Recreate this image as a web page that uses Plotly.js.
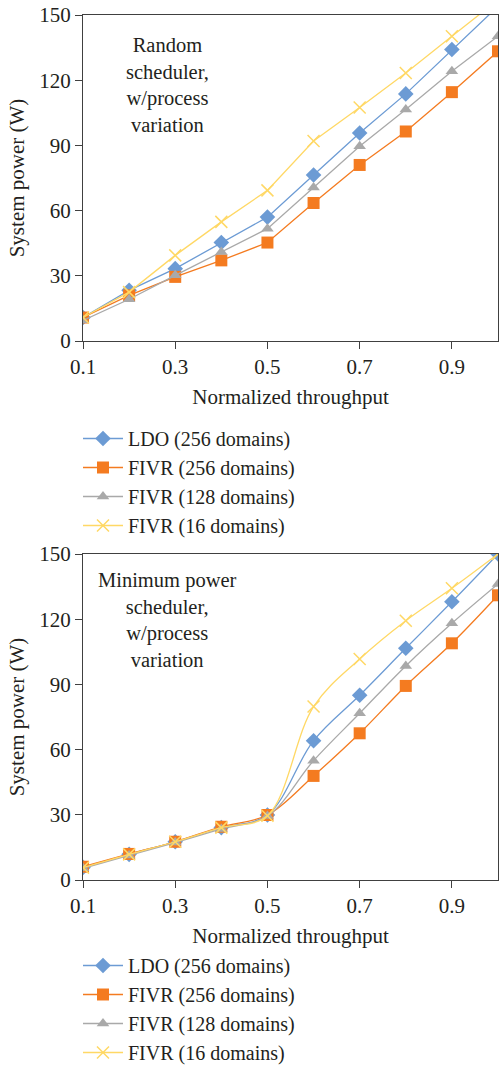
<!DOCTYPE html>
<html>
<head>
<meta charset="utf-8">
<script src="https://cdn.plot.ly/plotly-3.0.1.min.js"></script>
<style>
html,body{margin:0;padding:0;background:#fff;}
#chart{width:500px;height:1072px;}
</style>
</head>
<body>
<div id="chart"></div>
<script>
// ---- data ----
const throughput = [0.1, 0.2, 0.3, 0.4, 0.5, 0.6, 0.7, 0.8, 0.9, 1.0];
const seriesNames = ["LDO (256 domains)", "FIVR (256 domains)", "FIVR (128 domains)", "FIVR (16 domains)"];

// Random scheduler, w/process variation
const randLDO256  = [10.8, 23.3, 33.3, 45.3, 57.0, 76.4, 95.7, 113.7, 134.1, 154.0];
const randFIVR256 = [10.8, 21.0, 29.5, 37.1, 45.3, 63.5, 81.0, 96.4, 114.5, 133.3];
const randFIVR128 = [9.5, 19.2, 30.2, 41.0, 51.7, 70.6, 89.6, 106.5, 124.1, 140.2];
const randFIVR16  = [10.8, 22.5, 39.4, 54.8, 69.3, 92.0, 107.4, 123.3, 140.2, 157.0];

// Minimum power scheduler, w/process variation
const minLDO256  = [5.8, 11.8, 17.6, 24.1, 29.9, 64.1, 85.0, 106.6, 128.0, 150.0];
const minFIVR256 = [6.1, 12.0, 17.6, 24.5, 29.9, 47.9, 67.5, 89.3, 108.9, 131.0];
const minFIVR128 = [5.4, 11.3, 17.2, 23.5, 29.4, 54.9, 76.7, 98.5, 118.1, 136.2];
const minFIVR16  = [5.7, 11.8, 17.6, 24.1, 29.6, 79.8, 101.7, 119.3, 134.2, 150.0];

const xTicks = [0.1, 0.3, 0.5, 0.7, 0.9];
const yTicks = [0, 30, 60, 90, 120, 150];

// ---- styles ----
const FONT = "Liberation Serif, Times New Roman, serif";
const TXT = "#231f20";
const colors = ["#6c9bd4", "#f47b20", "#a9a9a9", "#ffd865"];
const symbols = ["diamond", "square", "triangle-up", "x-thin-open"];
const sizes = [12, 12, 11, 12];

function mk(y, i, xa, ya, legend, shape) {
  const marker = {symbol: symbols[i], size: sizes[i], color: colors[i]};
  if (i === 3) marker.line = {color: colors[i], width: 1.5};
  else marker.line = {width: 0};
  return {
    x: throughput, y: y, name: seriesNames[i], type: "scatter", mode: "lines+markers",
    xaxis: xa, yaxis: ya, legend: legend,
    line: {color: colors[i], width: 1.3, shape: shape, smoothing: 1},
    marker: marker, cliponaxis: true
  };
}

const traces = [
  mk(randLDO256, 0, "x", "y", "legend", "linear"),
  mk(randFIVR256, 1, "x", "y", "legend", "linear"),
  mk(randFIVR128, 2, "x", "y", "legend", "linear"),
  mk(randFIVR16, 3, "x", "y", "legend", "linear"),
  mk(minLDO256, 0, "x2", "y2", "legend2", "spline"),
  mk(minFIVR256, 1, "x2", "y2", "legend2", "spline"),
  mk(minFIVR128, 2, "x2", "y2", "legend2", "spline"),
  mk(minFIVR16, 3, "x2", "y2", "legend2", "spline")
];

const H = 1072, W = 500;
function yd(top, bot) { return [(H - bot) / H, (H - top) / H]; }

function xaxisDef(anchor) {
  return {
    domain: [83 / W, 498 / W], range: [0.1, 1.0], anchor: anchor,
    tickvals: xTicks, ticktext: xTicks.map(v => v.toFixed(1)),
    ticks: "outside", ticklen: 7, tickwidth: 1, tickcolor: "#404040",
    showline: true, linecolor: "#404040", linewidth: 1, mirror: true,
    showgrid: false, zeroline: false, automargin: false,
    tickfont: {family: FONT, size: 21, color: TXT},
    title: {text: "Normalized throughput", font: {family: FONT, size: 21, color: TXT}, standoff: 11}
  };
}
function yaxisDef(anchor, dom) {
  return {
    domain: dom, range: [0, 150], anchor: anchor,
    tickvals: yTicks, ticks: "outside", ticklen: 7, tickwidth: 1, tickcolor: "#404040",
    showline: true, linecolor: "#404040", linewidth: 1, mirror: true,
    showgrid: false, zeroline: false, automargin: false,
    tickfont: {family: FONT, size: 21, color: TXT},
    title: {text: "System power (W)", font: {family: FONT, size: 21, color: TXT}, standoff: 8}
  };
}
function legendDef(y, anchor) {
  return {
    x: 78 / W, xanchor: "left", y: y, yanchor: anchor,
    font: {family: FONT, size: 20, color: TXT},
    bgcolor: "rgba(0,0,0,0)", borderwidth: 0,
    traceorder: "normal", itemwidth: 40
  };
}

const layout = {
  width: W, height: H,
  margin: {l: 0, r: 0, t: 0, b: 0},
  paper_bgcolor: "#fff", plot_bgcolor: "#fff",
  showlegend: true,
  xaxis: xaxisDef("y"),
  yaxis: yaxisDef("x", yd(15, 341)),
  xaxis2: xaxisDef("y2"),
  yaxis2: yaxisDef("x2", yd(554, 880)),
  legend: legendDef((H - 419) / H, "top"),
  legend2: legendDef(0, "bottom"),
  annotations: [
    {text: "Random<br>scheduler,<br>w/process<br>variation", xref: "paper", yref: "paper",
     x: 167 / W, y: (H - 32) / H, xanchor: "center", yanchor: "top", showarrow: false, align: "center",
     font: {family: FONT, size: 20.5, color: TXT}},
    {text: "Minimum power<br>scheduler,<br>w/process<br>variation", xref: "paper", yref: "paper",
     x: 167 / W, y: (H - 567) / H, xanchor: "center", yanchor: "top", showarrow: false, align: "center",
     font: {family: FONT, size: 20.5, color: TXT}}
  ]
};

Plotly.newPlot("chart", traces, layout, {staticPlot: true, displayModeBar: false});
</script>
</body>
</html>
